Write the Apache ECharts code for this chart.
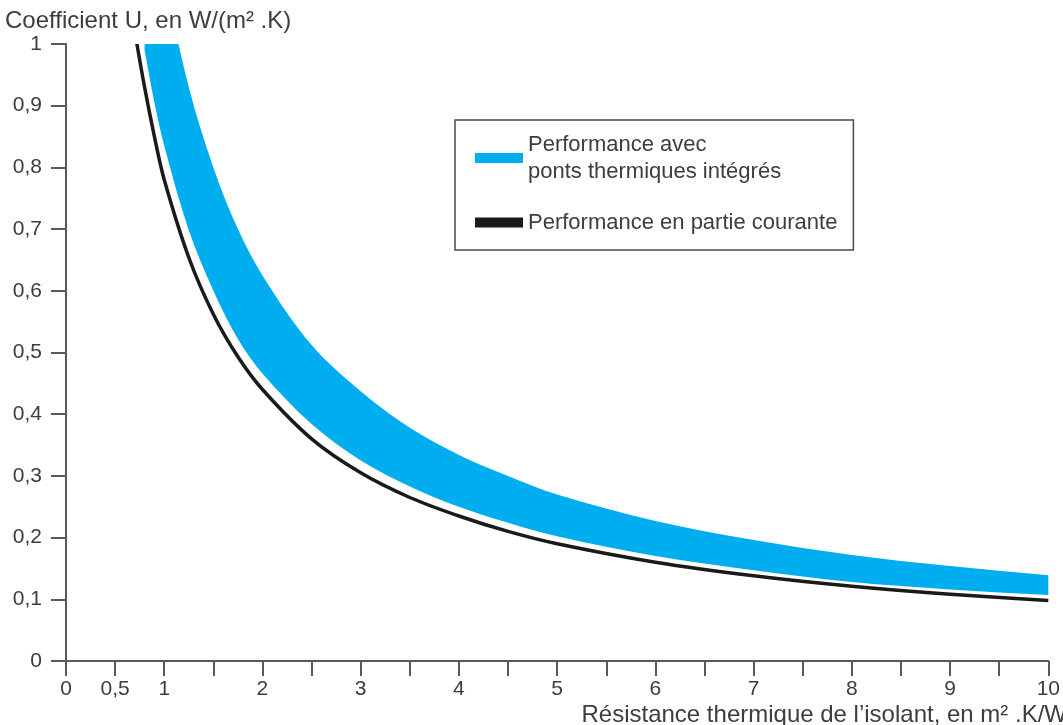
<!DOCTYPE html>
<html>
<head>
<meta charset="utf-8">
<script src="https://cdn.jsdelivr.net/npm/echarts@6/dist/echarts.min.js"></script>
<style>
  html, body { margin: 0; padding: 0; background: #ffffff; }
  #chart { width: 1063px; height: 725px; }
</style>
</head>
<body>
<div id="chart"></div>
<script>
// ---- Data ----
// Performance en partie courante (black curve)
const rBlack = [0.7, 0.8, 0.9, 1, 1.25, 1.5, 1.75, 2, 2.5, 3, 3.5, 4, 4.5, 5, 6, 7, 8, 9, 10];
const uBlack = [1.02, 0.93, 0.85, 0.78, 0.654, 0.562, 0.493, 0.44, 0.36, 0.305, 0.265, 0.235, 0.21, 0.19, 0.16, 0.138, 0.121, 0.108, 0.098];

// Performance avec ponts thermiques intégrés (blue band: lower and upper edges)
const rBand = [0.8, 0.9, 1, 1.25, 1.5, 1.75, 2, 2.5, 3, 3.5, 4, 4.5, 5, 6, 7, 8, 9, 10];
const uBandLow = [0.99, 0.905, 0.835, 0.698, 0.60, 0.522, 0.466, 0.384, 0.325, 0.283, 0.25, 0.224, 0.202, 0.17, 0.147, 0.128, 0.116, 0.107];
const uBandHigh = [1.31, 1.20, 1.11, 0.93, 0.80, 0.70, 0.625, 0.512, 0.437, 0.378, 0.334, 0.30, 0.27, 0.227, 0.196, 0.172, 0.154, 0.139];

const seriesNames = ['Performance avec\nponts thermiques intégrés', 'Performance en partie courante'];
const yTitle = 'Coefficient U, en W/(m² .K)';
const xTitle = 'Résistance thermique de l’isolant, en m² .K/W';

const BLUE = '#00AEEF';
const BLACK = '#1a1a1a';
const AXIS = '#5a5a5a';
const TXT = '#3d3d3d';
const FONT = '"Liberation Sans", Arial, Helvetica, sans-serif';

// Smooth path through already-projected pixel points
// (chord-length parameterised cubic Hermite -> Bezier)
function splineSegs(pts, start) {
  const n = pts.length;
  const t = [0];
  for (let i = 1; i < n; i++) {
    t.push(t[i - 1] + Math.hypot(pts[i][0] - pts[i - 1][0], pts[i][1] - pts[i - 1][1]));
  }
  const m = pts.map((p, i) => {
    const a = Math.max(0, i - 1), b = Math.min(n - 1, i + 1);
    const dt = (t[b] - t[a]) || 1;
    return [(pts[b][0] - pts[a][0]) / dt, (pts[b][1] - pts[a][1]) / dt];
  });
  let d = (start ? 'M' : 'L') + pts[0][0] + ' ' + pts[0][1];
  for (let i = 0; i < n - 1; i++) {
    const h = t[i + 1] - t[i];
    const c1x = pts[i][0] + m[i][0] * h / 3, c1y = pts[i][1] + m[i][1] * h / 3;
    const c2x = pts[i + 1][0] - m[i + 1][0] * h / 3, c2y = pts[i + 1][1] - m[i + 1][1] * h / 3;
    d += 'C' + c1x + ' ' + c1y + ' ' + c2x + ' ' + c2y + ' ' + pts[i + 1][0] + ' ' + pts[i + 1][1];
  }
  return d;
}

const chart = echarts.init(document.getElementById('chart'), null, { renderer: 'canvas' });

const option = {
  backgroundColor: '#ffffff',
  animation: false,
  grid: { left: 66, right: 13, top: 44, bottom: 64, containLabel: false },
  xAxis: {
    type: 'value', min: 0, max: 10, interval: 0.5, z: 10,
    axisLine: { show: true, onZero: false, lineStyle: { color: AXIS, width: 2 } },
    axisTick: { show: true, inside: false, length: 15, lineStyle: { color: AXIS, width: 2 } },
    splitLine: { show: false },
    axisLabel: {
      interval: 0, margin: 18, color: TXT, fontFamily: FONT, fontSize: 21,
      formatter: function (v) {
        if (Math.abs(v - 0.5) < 1e-9) return '0,5';
        if (Math.abs(v - Math.round(v)) < 1e-9) return String(Math.round(v));
        return '';
      }
    }
  },
  yAxis: {
    type: 'value', min: 0, max: 1, interval: 0.1, z: 10,
    axisLine: { show: true, lineStyle: { color: AXIS, width: 2 } },
    axisTick: { show: true, inside: false, length: 15, lineStyle: { color: AXIS, width: 2 } },
    splitLine: { show: false },
    axisLabel: {
      margin: 24, color: TXT, fontFamily: FONT, fontSize: 21,
      formatter: function (v) {
        const r = Math.round(v * 10) / 10;
        return String(r).replace('.', ',');
      }
    }
  },
  legend: {
    show: true,
    selectedMode: false,
    orient: 'vertical',
    left: 455, top: 120,
    padding: [11, 16, 14, 20],
    itemGap: 24,
    itemWidth: 48, itemHeight: 10,
    borderColor: '#4a4a4a', borderWidth: 1.5, borderRadius: 0,
    backgroundColor: '#ffffff',
    z: 20,
    textStyle: { color: TXT, fontFamily: FONT, fontSize: 22, lineHeight: 27 },
    data: [
      { name: seriesNames[0], icon: 'rect', itemStyle: { color: BLUE } },
      { name: seriesNames[1], icon: 'rect', itemStyle: { color: BLACK } }
    ]
  },
  graphic: [
    {
      type: 'text', left: 5, top: 9,
      style: { text: yTitle, fill: TXT, font: '24px ' + FONT }
    },
    {
      type: 'text', right: -4, top: 703,
      style: { text: xTitle, fill: TXT, font: '24px ' + FONT }
    }
  ],
  series: [
    {
      name: seriesNames[0], type: 'custom', clip: true, silent: true,
      itemStyle: { color: BLUE },
      data: [0],
      renderItem: function (params, api) {
        const up = rBand.map((r, i) => api.coord([r, uBandHigh[i]]));
        const lo = rBand.map((r, i) => api.coord([r, uBandLow[i]])).reverse();
        const d = splineSegs(up, true) + splineSegs(lo, false) + 'Z';
        return {
          type: 'path',
          shape: { pathData: d },
          style: { fill: BLUE, stroke: null }
        };
      },
      z: 2
    },
    {
      name: seriesNames[1], type: 'custom', clip: true, silent: true,
      itemStyle: { color: BLACK },
      data: [0],
      renderItem: function (params, api) {
        const pts = rBlack.map((r, i) => api.coord([r, uBlack[i]]));
        return {
          type: 'path',
          shape: { pathData: splineSegs(pts, true) },
          style: { fill: null, stroke: BLACK, lineWidth: 3.5, lineJoin: 'round' }
        };
      },
      z: 4
    }
  ]
};

chart.setOption(option);
</script>
</body>
</html>
